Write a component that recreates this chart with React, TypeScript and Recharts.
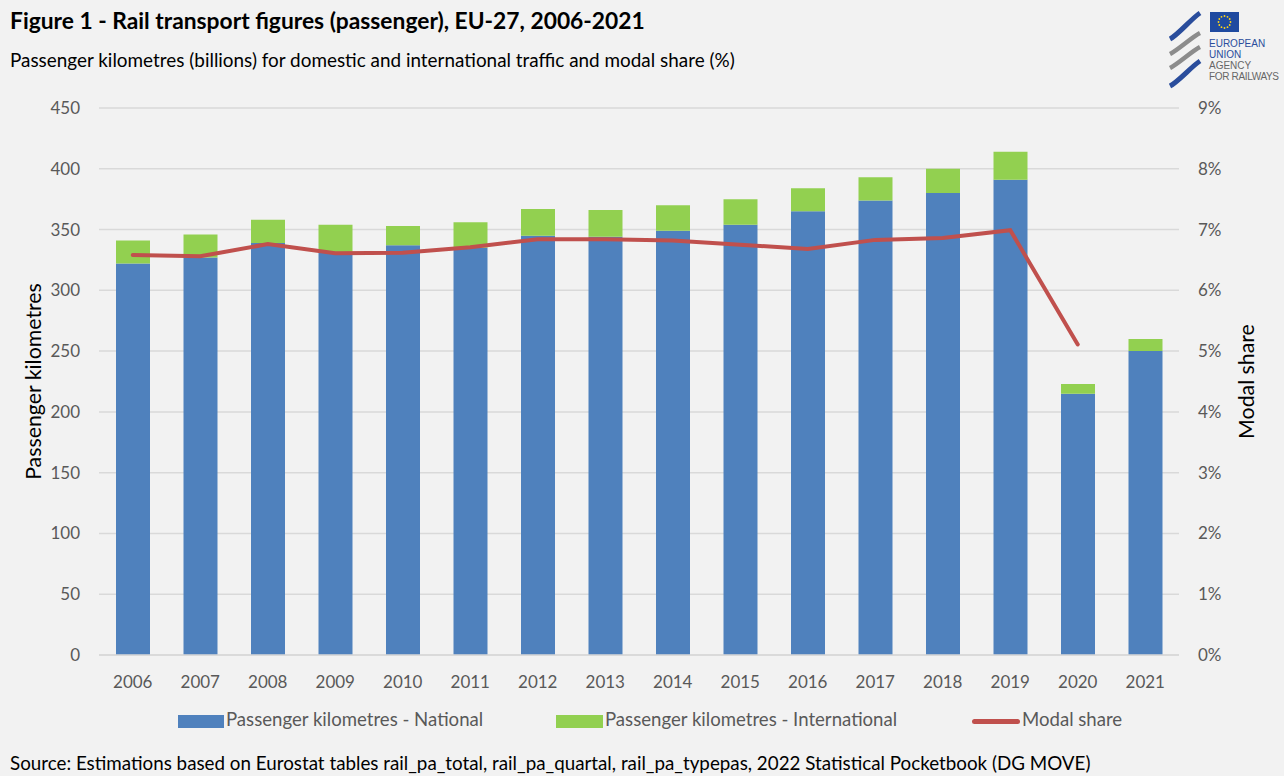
import { ComposedChart, Bar, Line, XAxis, YAxis, CartesianGrid } from 'recharts';

const years = ['2006', '2007', '2008', '2009', '2010', '2011', '2012', '2013', '2014', '2015', '2016', '2017', '2018', '2019', '2020', '2021'];
const nationalPkm = [322, 327, 339, 331, 337, 335, 345, 344, 349, 354, 365, 374, 380, 391, 215, 250];
const internationalPkm = [19, 19, 19, 23, 16, 21, 22, 22, 21, 21, 19, 19, 20, 23, 8, 10];
const modalShare: (number | null)[] = [6.58, 6.56, 6.76, 6.61, 6.62, 6.71, 6.84, 6.84, 6.82, 6.75, 6.68, 6.83, 6.86, 6.99, 5.11, null];
const leftTicks = [0, 50, 100, 150, 200, 250, 300, 350, 400, 450];
const rightTicks = [0, 1, 2, 3, 4, 5, 6, 7, 8, 9];

const data = years.map((y, i) => ({
    year: y,
    national: nationalPkm[i],
    international: internationalPkm[i],
    share: modalShare[i],
}));

const FONT = 'Lato, "Noto Sans", sans-serif';
const BLUE = '#4f81bd';
const GREEN = '#92d050';
const RED = '#c0504d';
const GREY_TEXT = '#595959';

function Logo() {
    const logoFont = '"Liberation Sans", Arial, sans-serif';
    return (
        <svg width={120} height={86} style={{ position: 'absolute', left: 1164, top: 4 }}>
            <path d="M6 35 C 14 31, 28 14, 36 9" stroke="#2a4d9c" strokeWidth={5} fill="none" />
            <path d="M6 50 C 14 46, 28 33, 36 29" stroke="#8c8c8c" strokeWidth={4.5} fill="none" />
            <path d="M6 64 C 14 60, 28 47, 36 43" stroke="#8c8c8c" strokeWidth={4.5} fill="none" />
            <path d="M6 82 C 14 78, 28 62, 36 57" stroke="#2a4d9c" strokeWidth={5} fill="none" />
            <rect x={46} y={8} width={29} height={20} fill="#1f4aa0" />
            {Array.from({ length: 12 }).map((_, k) => {
                const a = (k / 12) * Math.PI * 2;
                return <circle key={k} cx={60.5 + Math.cos(a) * 6} cy={18 + Math.sin(a) * 6} r={0.9} fill="#ffd617" />;
            })}
            <text x={45} y={43} fontSize={10} fill="#2a4d9c" fontFamily={logoFont}>EUROPEAN</text>
            <text x={45} y={54} fontSize={10} fill="#2a4d9c" fontFamily={logoFont}>UNION</text>
            <text x={45} y={65} fontSize={10} fill="#666" fontFamily={logoFont}>AGENCY</text>
            <text x={45} y={76} fontSize={10} fill="#666" fontFamily={logoFont} textLength={70}>FOR RAILWAYS</text>
        </svg>
    );
}

export default function App() {
    return (
        <div style={{ position: 'absolute', left: 0, top: 0, width: 1284, height: 776, background: '#f2f2f2', fontFamily: FONT, overflow: 'hidden' }}>
            <div style={{ position: 'absolute', left: 10, top: 6, fontSize: 22.8, fontWeight: 700, color: '#000', whiteSpace: 'nowrap' }}>
                Figure 1 - Rail transport figures (passenger), EU-27, 2006-2021
            </div>
            <div style={{ position: 'absolute', left: 10, top: 48, fontSize: 18.9, color: '#000', whiteSpace: 'nowrap' }}>
                Passenger kilometres (billions) for domestic and international traffic and modal share (%)
            </div>
            <Logo />

            <div style={{ position: 'absolute', left: 0, top: 0 }}>
                <ComposedChart
                    width={1284}
                    height={776}
                    data={data}
                    margin={{ top: 108, right: 20, bottom: 81, left: 22 }}
                    barSize={34}
                >
                    <CartesianGrid vertical={false} stroke="#d9d9d9" strokeWidth={1.5} yAxisId="left" />
                    <XAxis
                        dataKey="year"
                        height={40}
                        axisLine={{ stroke: '#d9d9d9', strokeWidth: 1.5 }}
                        tickLine={false}
                        tickMargin={15}
                        tick={{ fill: GREY_TEXT, fontSize: 17, fontFamily: FONT }}
                        interval={0}
                    />
                    <YAxis
                        yAxisId="left"
                        width={77}
                        domain={[0, 450]}
                        ticks={leftTicks}
                        axisLine={false}
                        tickLine={false}
                        tickMargin={13}
                        tick={{ fill: GREY_TEXT, fontSize: 17, fontFamily: FONT }}
                        label={{ value: 'Passenger kilometres', angle: -90, position: 'insideLeft', offset: 11, style: { textAnchor: 'middle', fontSize: 21.3, fill: '#000', fontFamily: FONT } }}
                    />
                    <YAxis
                        yAxisId="right"
                        orientation="right"
                        width={85}
                        domain={[0, 9]}
                        ticks={rightTicks}
                        tickFormatter={(v: number) => `${v}%`}
                        axisLine={false}
                        tickLine={false}
                        tickMargin={13}
                        tick={{ fill: GREY_TEXT, fontSize: 17, fontFamily: FONT }}
                        label={{ value: 'Modal share', angle: -90, position: 'insideRight', offset: 18, style: { textAnchor: 'middle', fontSize: 21.3, fill: '#000', fontFamily: FONT } }}
                    />
                    <Bar yAxisId="left" dataKey="national" stackId="pkm" fill={BLUE} isAnimationActive={false} />
                    <Bar yAxisId="left" dataKey="international" stackId="pkm" fill={GREEN} isAnimationActive={false} />
                    <Line
                        yAxisId="right"
                        dataKey="share"
                        stroke={RED}
                        strokeWidth={4}
                        strokeLinecap="round"
                        dot={false}
                        activeDot={false}
                        type="linear"
                        isAnimationActive={false}
                    />
                </ComposedChart>
            </div>

            <div style={{ position: 'absolute', left: 178, top: 715, width: 46, height: 13, background: BLUE }} />
            <div style={{ position: 'absolute', left: 226, top: 708, fontSize: 18.6, color: GREY_TEXT, whiteSpace: 'nowrap' }}>Passenger kilometres - National</div>
            <div style={{ position: 'absolute', left: 556, top: 715, width: 47, height: 13, background: GREEN }} />
            <div style={{ position: 'absolute', left: 605, top: 708, fontSize: 18.6, color: GREY_TEXT, whiteSpace: 'nowrap' }}>Passenger kilometres - International</div>
            <div style={{ position: 'absolute', left: 972, top: 719, width: 48, height: 5, borderRadius: 2.5, background: RED }} />
            <div style={{ position: 'absolute', left: 1022, top: 708, fontSize: 18.6, color: GREY_TEXT, whiteSpace: 'nowrap' }}>Modal share</div>

            <div style={{ position: 'absolute', left: 10, top: 751, fontSize: 18.8, color: '#000', whiteSpace: 'nowrap' }}>
                Source: Estimations based on Eurostat tables rail_pa_total, rail_pa_quartal, rail_pa_typepas, 2022 Statistical Pocketbook (DG MOVE)
            </div>
        </div>
    );
}
